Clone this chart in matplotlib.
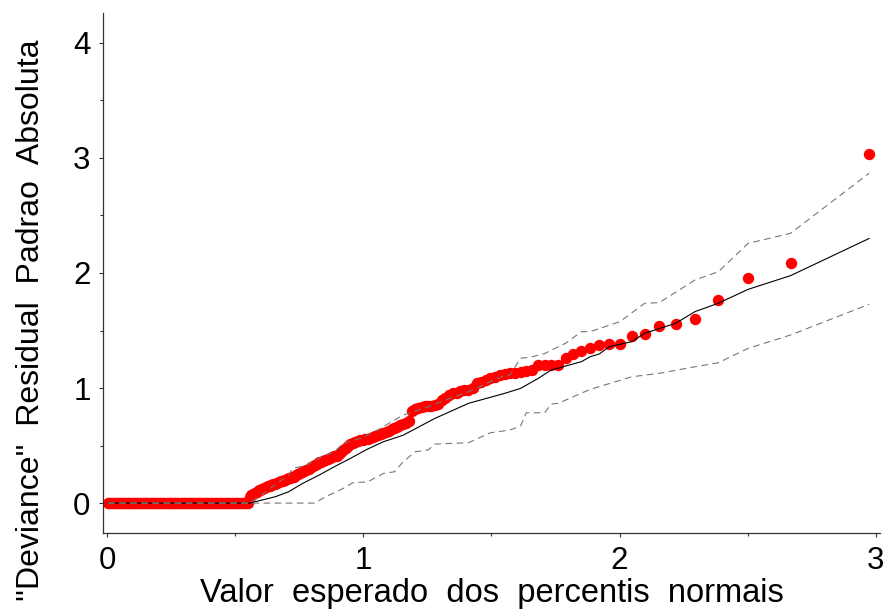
import statistics

import matplotlib
matplotlib.use("Agg")
import matplotlib.pyplot as plt
import numpy as np
from matplotlib.ticker import MultipleLocator

plt.rcParams["font.family"] = ["Liberation Sans", "DejaVu Sans"]

# Residuos deviance absolutos ordenados (os primeiros n_zeros sao nulos)
n_obs = 212
n_zeros = 89
residuos_pos = [
    0.05, 0.07, 0.08, 0.09, 0.10, 0.11, 0.115, 0.12, 0.13, 0.14,
    0.145, 0.15, 0.16, 0.165, 0.17, 0.175, 0.18, 0.19, 0.195, 0.20,
    0.21, 0.215, 0.22, 0.225, 0.23, 0.24, 0.25, 0.26, 0.27, 0.28,
    0.29, 0.30, 0.31, 0.32, 0.33, 0.34, 0.355, 0.36, 0.37, 0.375,
    0.38, 0.39, 0.40, 0.405, 0.41, 0.43, 0.44, 0.46, 0.48, 0.50,
    0.51, 0.52, 0.53, 0.54, 0.545, 0.55, 0.555, 0.56, 0.57, 0.575,
    0.58, 0.59, 0.60, 0.61, 0.62, 0.63, 0.64, 0.65, 0.66, 0.68,
    0.69, 0.70, 0.71, 0.80, 0.82, 0.83, 0.835, 0.84, 0.84, 0.845,
    0.85, 0.86, 0.90, 0.91, 0.94, 0.955, 0.96, 0.97, 0.98, 0.985,
    1.00, 1.04, 1.05, 1.07, 1.09, 1.10, 1.11, 1.12, 1.13, 1.135,
    1.14, 1.15, 1.16, 1.20, 1.20, 1.20, 1.20, 1.26, 1.30, 1.32,
    1.345, 1.37, 1.38, 1.385, 1.449, 1.47, 1.542, 1.554, 1.600, 1.765,
    1.954, 2.087, 3.035,
]

# Envelope simulado: vertices (posto, valor)
media_posto = [1, 90, 104, 111, 118, 126, 133, 140, 147, 153, 160, 170, 179, 187,
               190, 193, 195, 199, 200, 201, 202, 204, 205, 207, 208, 209, 210, 211, 212]
media_valor = [0, 0, 0.055, 0.098, 0.17, 0.243, 0.316, 0.389, 0.47, 0.533, 0.59, 0.736,
               0.867, 0.954, 0.997, 1.084, 1.157, 1.229, 1.272, 1.296, 1.359, 1.403,
               1.476, 1.563, 1.664, 1.737, 1.858, 1.977, 2.30]

sup_posto = [1, 90, 100, 111, 113, 120, 127, 133, 137, 144, 152, 155, 160, 168, 173,
             179, 184, 187, 188, 190, 192, 194, 196, 197, 199, 200, 203, 205, 206, 208,
             209, 210, 211, 212]
sup_valor = [0, 0, 0.113, 0.243, 0.30, 0.33, 0.40, 0.446, 0.519, 0.562, 0.649, 0.693,
             0.765, 0.837, 0.896, 0.968, 1.055, 1.11, 1.113, 1.258, 1.272, 1.30, 1.359,
             1.389, 1.49, 1.49, 1.577, 1.737, 1.742, 1.939, 2.011, 2.258, 2.345, 2.867]

inf_posto = [1, 124, 129, 137, 141, 147, 153, 157, 160, 164, 168, 170, 179, 184, 188,
             190, 191, 194, 195, 196, 200, 204, 206, 208, 209, 210, 211, 212]
inf_valor = [0, 0, 0.055, 0.128, 0.177, 0.185, 0.258, 0.272, 0.359, 0.446, 0.461,
             0.513, 0.525, 0.611, 0.635, 0.67, 0.785, 0.785, 0.861, 0.867, 0.988,
             1.098, 1.128, 1.185, 1.22, 1.345, 1.461, 1.728]


def percentil_seminormal(posto, n):
    """Valor esperado dos percentis da meia-normal para o posto dado."""
    nd = statistics.NormalDist()
    return np.array([nd.inv_cdf((i + n - 0.125) / (2 * n + 0.5)) for i in posto])


residuos = np.concatenate([np.zeros(n_zeros), residuos_pos])
postos = np.arange(1, n_obs + 1)
x_pts = percentil_seminormal(postos, n_obs)

fig = plt.figure(figsize=(8.88, 6.13), dpi=100)
ax = fig.add_axes([0.116, 0.1305, 0.875, 0.8483])

ax.plot(x_pts, residuos, "o", color="#ff0000", markersize=8.2, markeredgewidth=0, zorder=2)
ax.plot(percentil_seminormal(media_posto, n_obs), media_valor, color="black", lw=0.8, zorder=3)
ax.plot(percentil_seminormal(sup_posto, n_obs), sup_valor, color="#777777", lw=0.8,
        dashes=(6, 4), zorder=3)
ax.plot(percentil_seminormal(inf_posto, n_obs), inf_valor, color="#777777", lw=0.8,
        dashes=(6, 4), zorder=3)

ax.set_xlim(-0.0156, 3.016)
ax.set_ylim(-0.26, 4.26)

for lado in ["top", "right"]:
    ax.spines[lado].set_visible(False)
for lado in ["left", "bottom"]:
    ax.spines[lado].set_color("#333333")
    ax.spines[lado].set_linewidth(0.9)

ax.xaxis.set_major_locator(MultipleLocator(1))
ax.xaxis.set_minor_locator(MultipleLocator(0.5))
ax.yaxis.set_major_locator(MultipleLocator(1))
ax.yaxis.set_minor_locator(MultipleLocator(0.5))
ax.tick_params(which="major", length=3, width=0.8, color="#333333", labelsize=22.5, pad=6)
ax.tick_params(which="minor", length=2, width=0.8, color="#333333")

ax.set_xlabel("Valor  esperado  dos  percentis  normais", fontsize=23.5, labelpad=2)
fig.text(0.035, 0.478, "''Deviance''  Residual  Padrao  Absoluta", fontsize=23,
         rotation=90, ha="center", va="center")

fig.savefig("out.png", dpi=100)
